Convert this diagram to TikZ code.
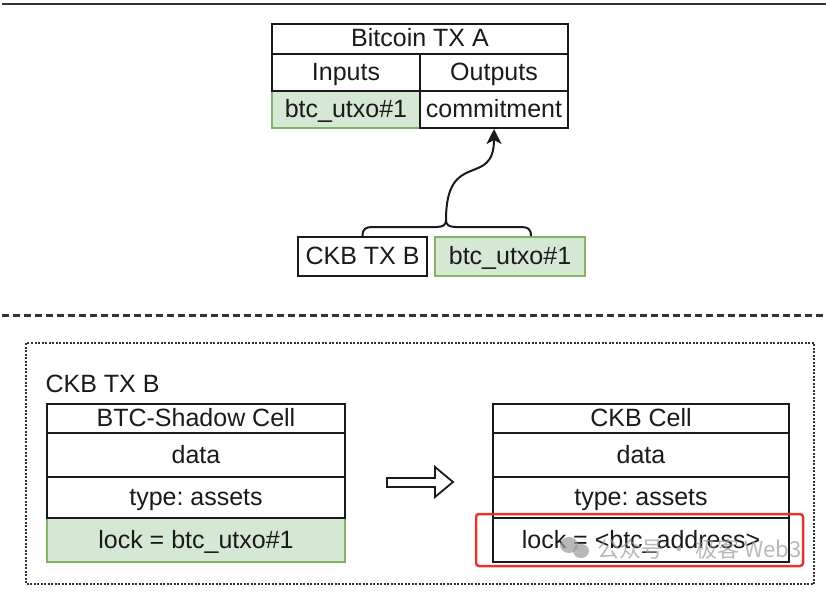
\documentclass[tikz,border=0pt]{standalone}
\usepackage{fontspec}
\setmainfont{Liberation Sans}
\newfontfamily\cjkfont{Noto Sans CJK SC}
\usetikzlibrary{arrows.meta,positioning,calc}
\frenchspacing
\definecolor{Ink}{HTML}{1A1A1A}
\definecolor{Rule}{HTML}{333333}
\definecolor{Leaf}{HTML}{D5E8D4}
\definecolor{LeafEdge}{HTML}{82B366}
\definecolor{Alert}{HTML}{E5332F}
\definecolor{Mark}{HTML}{9A9A9A}
\tikzset{
  cell/.style n args={2}{draw=Ink, line width=2pt, fill=white, text=Ink, inner sep=0pt,
    text height=17pt, text depth=1pt,
    minimum width=#1, minimum height=#2, font=\fontsize{25}{29}\selectfont},
  greencell/.style n args={2}{cell={#1}{#2}, draw=LeafEdge, fill=Leaf},
  flow/.style={Ink, line width=2pt, -{Stealth[length=15pt, width=15pt, inset=4pt]}}
}

\begin{document}
\begin{tikzpicture}[x=1pt, y=-1pt]
        \useasboundingbox (0,0) rectangle (826,596);
        \draw[Rule, line width=2pt] (2,4.5) -- (826,4.5);
        % Bitcoin TX A
        \node[greencell={148pt}{37pt}] (utxoin) at (346,109.5) {btc\_utxo\#1};
        \node[cell={296pt}{30pt}] (txa) at (420,39) {Bitcoin TX A};
        \node[cell={148pt}{37pt}] (inputs) at (346,72.5) {Inputs};
        \node[cell={148pt}{37pt}] (outputs) at (494,72.5) {Outputs};
        \node[cell={148pt}{37pt}] (commit) at (494,109.5) {commitment};
        \node[cell={129pt}{39pt}] (ckbtx) at (362.5,256.5) {CKB TX B};
        \node[greencell={150pt}{39pt}] (utxo) at (510,256.5) {btc\_utxo\#1};
        \coordinate (cusp) at (446,220);
        \coordinate (braceR) at ($(utxo.north)+(21,0)$);
        \draw[Ink, line width=2pt] (ckbtx.north) .. controls +(0,-7) and +(-7,0) .. (372.5,227)
          -- (436,227) .. controls +(7,0) and +(0,5) .. (cusp)
          .. controls +(0,5) and +(-7,0) .. (456,227)
          -- (521,227) .. controls +(7,0) and +(0,-7) .. (braceR);
        \draw[flow] (cusp) .. controls +(0,-72) and +(0,60) .. (commit.south);
        \draw[Rule, line width=3pt, dash pattern=on 7pt off 4pt] (2,315) -- (826,315);
        % CKB TX B
        \draw[Rule, line width=2pt, dash pattern=on 2pt off 1.5pt] (26,343) rectangle (814,584);
        \node[anchor=west, text=Ink, font=\fontsize{25}{29}\selectfont] (txb) at (42,384) {CKB TX B};
        \node[greencell={298pt}{44pt}] (shlock) at (196,540) {lock = btc\_utxo\#1};
        \node[cell={298pt}{29pt}] (shtitle) at (196,418.5) {BTC-Shadow Cell};
        \node[cell={298pt}{44pt}] (shdata) at (196,455) {data};
        \node[cell={298pt}{41pt}] (shtype) at (196,497.5) {type: assets};
        \node[cell={296pt}{29pt}] (cktitle) at (641,418.5) {CKB Cell};
        \node[cell={296pt}{44pt}] (ckdata) at (641,455) {data};
        \node[cell={296pt}{41pt}] (cktype) at (641,497.5) {type: assets};
        \node[cell={296pt}{44pt}] (cklock) at (641,540) {lock = <btc\_address>};
        \draw[Ink, line width=1.8pt, fill=white, line join=miter] (387,478) -- (435,478) -- (435,467)
          -- (453,482) -- (435,497) -- (435,487) -- (387,487) -- cycle;
        \draw[Alert, line width=2.5pt, rounded corners=3pt]
          ($(cklock.north west)+(-16,-3)$) rectangle ($(cklock.south east)+(13,3)$);
        \begin{scope}[opacity=0.7]
          \fill[Mark] (569,545) ellipse (9 and 8);
          \fill[Mark] (581,551) ellipse (8 and 7);
          \node[anchor=west, text=Mark, font=\cjkfont\fontsize{22}{26}\selectfont] (wm) at (594,549) {公众号 · 极客 Web3};
        \end{scope}
      \end{tikzpicture}
\end{document}
